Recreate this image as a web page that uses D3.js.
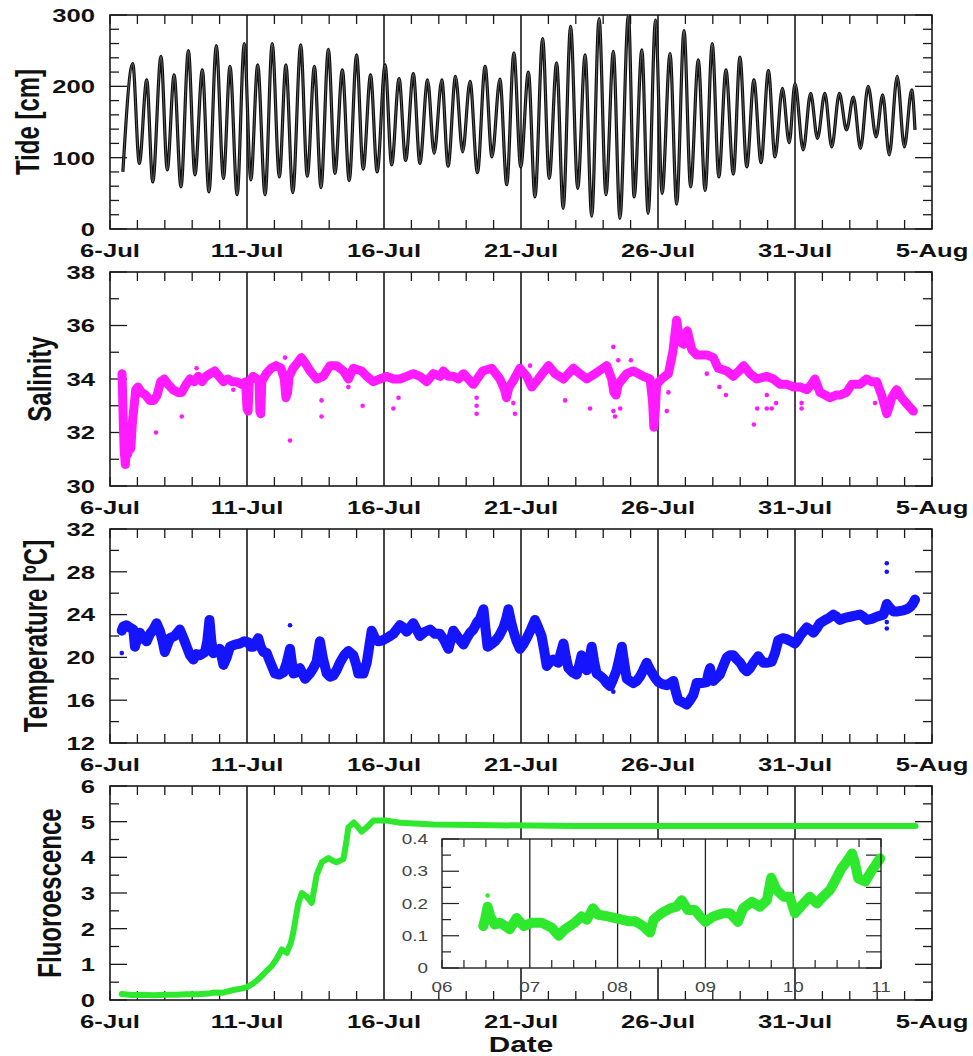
<!DOCTYPE html>
<html><head><meta charset="utf-8">
<script src="https://cdn.jsdelivr.net/npm/d3@7"></script>
<style>html,body{margin:0;padding:0;background:#fff}svg{display:block}</style>
</head><body>
<svg id="chart" width="973" height="1056"></svg>
<script>
// ---------- DATA (days since 6-Jul 00:00) ----------
const dateLabels = ["6-Jul","11-Jul","16-Jul","21-Jul","26-Jul","31-Jul","5-Aug"];
const insetLabels = ["06","07","08","09","10","11"];

const tideDay = [0.47,0.83,1.07,1.34,1.56,1.86,2.09,2.34,2.59,2.86,3.10,3.37,3.61,3.88,4.14,4.38,4.64,4.90,5.14,5.39,5.66,5.92,6.18,6.42,6.67,6.96,7.20,7.46,7.70,7.97,8.21,8.48,8.73,9.00,9.24,9.51,9.75,10.04,10.28,10.55,10.79,11.07,11.31,11.59,11.83,12.11,12.34,12.61,12.87,13.14,13.41,13.69,13.94,14.23,14.48,14.74,14.99,15.27,15.51,15.79,16.03,16.30,16.54,16.81,17.07,17.34,17.58,17.85,18.10,18.37,18.61,18.92,19.13,19.41,19.64,19.91,20.15,20.44,20.68,20.95,21.19,21.47,21.72,21.98,22.22,22.48,22.75,22.99,23.24,23.50,23.76,24.03,24.27,24.54,24.79,25.00,25.30,25.57,25.82,26.09,26.34,26.62,26.88,27.13,27.39,27.67,27.96,28.20,28.44,28.73,28.99,29.26,29.38];
const tideCm = [80,232,92,209,66,242,83,216,59,250,76,223,52,257,71,228,48,260,69,230,48,260,73,230,51,258,74,228,58,252,78,223,68,244,84,216,80,230,90,211,96,218,92,209,106,209,88,214,108,207,79,228,101,210,62,247,87,220,45,267,71,233,29,284,57,244,18,295,48,249,15,300,45,251,22,293,50,246,35,278,59,237,54,260,73,223,77,241,87,209,93,222,101,197,121,204,111,190,127,190,115,190,139,185,113,200,129,188,104,214,115,195,139];

const salDay = [0.44,0.46,0.49,0.52,0.56,0.60,0.65,0.70,0.76,0.82,0.88,0.94,1.02,1.15,1.30,1.45,1.60,1.72,1.85,1.98,2.12,2.30,2.48,2.62,2.78,2.92,3.08,3.22,3.36,3.50,3.66,3.82,3.98,4.14,4.30,4.46,4.62,4.80,4.95,5.00,5.04,5.08,5.22,5.36,5.44,5.47,5.50,5.54,5.70,5.88,6.06,6.24,6.36,6.42,6.48,6.54,6.68,6.84,6.98,7.12,7.30,7.54,7.78,8.03,8.27,8.52,8.70,8.88,9.18,9.37,9.61,9.85,10.10,10.34,10.58,10.83,11.07,11.31,11.56,11.80,12.05,12.17,12.35,12.53,12.72,12.90,13.08,13.26,13.40,13.60,13.93,14.23,14.40,14.47,14.56,14.70,14.96,15.21,15.39,15.63,16.00,16.24,16.55,16.91,17.15,17.40,17.70,18.13,18.31,18.39,18.47,18.55,18.86,19.10,19.46,19.71,19.80,19.85,19.90,19.95,20.13,20.38,20.54,20.68,20.74,20.80,20.93,21.07,21.23,21.41,21.78,22.02,22.20,22.51,22.75,22.95,23.12,23.36,23.60,23.97,24.21,24.45,24.70,24.95,25.20,25.43,25.60,25.73,25.91,26.10,26.28,26.50,26.64,26.88,27.07,27.37,27.61,27.80,27.98,28.16,28.35,28.45,28.53,28.71,28.89,29.14,29.32];
const salVal = [34.2,33.4,32.2,31.3,30.8,31.6,31.2,31.5,31.4,32.4,33.0,33.6,33.7,33.5,33.4,33.2,33.2,33.4,33.9,34.0,33.8,33.6,33.5,33.5,33.8,34.0,33.9,34.1,33.9,34.1,34.2,34.3,34.1,33.9,34.0,33.9,33.9,33.8,33.9,32.9,32.8,33.9,34.1,34.0,33.9,32.8,32.7,33.9,34.2,34.4,34.5,34.4,34.0,33.3,33.5,34.1,34.4,34.6,34.8,34.6,34.3,34.0,34.1,34.5,34.5,34.3,34.0,34.4,34.3,34.1,33.9,34.0,34.1,34.0,34.0,34.1,34.2,34.1,33.9,34.2,34.1,34.3,34.1,34.1,34.0,34.2,34.0,33.8,34.0,34.3,34.4,34.0,33.6,33.3,33.7,33.9,34.4,34.1,33.7,34.0,34.5,34.2,34.0,34.4,34.2,34.0,34.2,34.5,34.0,33.5,33.4,33.8,34.2,34.3,34.1,34.0,33.2,32.2,32.8,33.8,34.0,34.2,35.0,36.2,35.8,35.4,35.3,35.8,35.1,34.9,34.9,34.8,34.4,34.3,34.1,34.3,34.5,34.2,34.0,34.1,34.0,33.8,33.8,33.7,33.7,33.6,33.8,34.0,33.5,33.4,33.3,33.4,33.4,33.5,33.8,33.8,34.0,33.9,33.9,33.4,32.7,33.0,33.3,33.6,33.3,33.0,32.8];
const salOutDay = [1.68,2.62,6.57,7.72,7.72,9.22,8.70,10.34,10.53,13.38,13.38,13.38,6.39,3.16,4.50,14.72,14.78,15.33,16.61,17.52,18.37,18.37,18.43,18.55,18.62,19.01,20.38,20.32,21.78,22.24,22.48,23.50,23.62,23.97,23.97,24.15,24.31,25.24,25.24,27.92];
const salOutVal = [32.0,32.6,31.7,33.2,32.6,33.0,33.7,32.9,33.3,33.3,33.0,32.7,34.8,34.4,33.6,33.1,32.7,34.5,33.2,32.9,35.2,32.8,32.6,34.7,32.9,34.7,33.5,32.8,34.2,33.7,33.4,32.3,32.9,33.4,32.9,32.9,33.1,33.1,32.9,33.1];

const tempDay = [0.43,0.49,0.60,0.72,0.85,0.91,1.00,1.09,1.20,1.34,1.46,1.58,1.70,1.82,1.92,2.00,2.10,2.19,2.36,2.55,2.68,2.80,2.92,3.04,3.16,3.28,3.47,3.55,3.63,3.70,3.77,3.90,4.01,4.14,4.26,4.38,4.56,4.74,4.90,5.05,5.14,5.23,5.41,5.50,5.60,5.72,5.84,6.02,6.18,6.33,6.45,6.57,6.69,6.81,6.93,7.12,7.30,7.42,7.54,7.66,7.78,7.91,8.03,8.15,8.27,8.39,8.55,8.70,8.88,9.00,9.06,9.25,9.37,9.46,9.55,9.67,9.79,9.95,10.10,10.22,10.34,10.46,10.58,10.70,10.83,10.95,11.07,11.19,11.31,11.50,11.68,11.86,12.04,12.20,12.35,12.53,12.72,12.90,13.02,13.14,13.26,13.38,13.50,13.63,13.70,13.78,13.90,14.05,14.20,14.36,14.46,14.54,14.63,14.72,14.84,14.96,15.08,15.21,15.36,15.51,15.63,15.75,15.85,15.94,16.06,16.18,16.36,16.46,16.55,16.64,16.73,16.88,17.03,17.12,17.21,17.30,17.40,17.50,17.58,17.67,17.76,17.88,18.01,18.13,18.25,18.37,18.49,18.58,18.68,18.77,18.86,18.98,19.10,19.22,19.34,19.46,19.59,19.68,19.77,19.89,20.01,20.16,20.32,20.44,20.56,20.65,20.74,20.90,21.05,21.17,21.29,21.41,21.60,21.78,21.84,21.90,21.96,22.02,22.14,22.26,22.38,22.51,22.63,22.75,22.88,23.00,23.12,23.24,23.36,23.48,23.57,23.66,23.75,23.84,24.00,24.15,24.27,24.39,24.55,24.70,24.85,25.00,25.09,25.18,25.30,25.43,25.55,25.67,25.79,25.91,26.10,26.25,26.40,26.52,26.64,26.82,27.01,27.19,27.37,27.50,27.62,27.80,27.98,28.10,28.23,28.35,28.47,28.59,28.75,28.96,29.08,29.20,29.30,29.38];
const tempVal = [22.5,22.9,23.0,22.8,22.6,21.0,21.8,22.3,21.8,21.5,22.2,22.6,23.2,22.5,21.5,20.5,21.2,21.8,22.0,22.6,21.8,21.0,20.2,19.8,20.3,20.2,20.5,21.5,23.5,21.5,20.4,20.6,20.8,19.3,20.0,21.0,21.2,21.3,21.5,21.4,21.0,21.0,21.8,21.0,20.5,20.4,19.6,18.5,18.4,18.6,19.5,20.8,18.5,18.6,19.0,18.0,18.5,19.0,19.6,21.5,19.8,18.5,18.2,18.3,18.8,19.5,20.2,20.6,20.2,19.2,18.5,18.5,19.5,21.0,22.5,21.8,21.5,21.6,21.8,22.0,22.2,22.6,23.0,22.8,22.4,22.8,23.2,22.6,22.0,22.4,22.6,22.2,22.2,21.6,20.8,22.5,21.8,21.2,21.8,22.3,22.6,23.2,23.6,24.5,22.8,21.0,21.2,21.5,22.0,22.8,23.6,24.5,23.4,22.5,21.5,20.8,21.2,21.8,22.6,23.5,22.8,22.0,20.6,19.2,19.6,19.8,19.5,20.5,21.3,20.0,19.0,18.6,18.4,19.2,20.2,19.4,18.8,19.8,21.0,19.6,18.5,18.3,18.0,17.6,17.3,18.0,18.8,19.8,21.0,19.4,18.0,17.8,17.6,17.8,18.2,18.8,19.5,19.0,18.6,18.1,17.7,17.5,17.4,17.6,17.8,16.8,16.0,15.8,15.6,16.0,16.5,17.6,17.6,17.7,18.5,19.0,18.2,17.8,18.1,18.4,19.2,20.0,20.2,20.2,19.8,19.5,19.0,18.7,19.0,19.5,19.8,20.1,19.8,19.5,19.5,19.6,20.4,21.6,21.8,21.7,21.5,21.3,21.6,22.0,22.4,22.8,22.6,22.3,22.7,23.2,23.5,23.7,24.0,23.8,23.5,23.7,23.8,23.9,24.0,23.8,23.5,23.6,23.8,23.9,24.0,25.0,24.6,24.3,24.3,24.4,24.5,24.7,25.0,25.4];
const tempOutDay = [0.43,6.57,18.37,28.35,28.35,28.35,28.35];
const tempOutVal = [20.4,23.0,16.8,28.8,28.0,23.3,22.7];

const fluoDay = [0.43,0.8,1.2,1.6,2.0,2.4,2.8,3.2,3.6,3.8,4.1,4.5,4.8,5.0,5.2,5.47,5.72,5.9,6.08,6.27,6.45,6.6,6.69,6.8,6.87,7.0,7.18,7.36,7.45,7.54,7.73,7.97,8.15,8.27,8.52,8.62,8.70,8.90,9.05,9.18,9.37,9.61,10.10,10.58,11.8,14,17,20,25,29.4];
const fluoVal = [0.17,0.14,0.15,0.13,0.15,0.15,0.16,0.16,0.18,0.21,0.20,0.28,0.32,0.36,0.45,0.62,0.82,0.95,1.15,1.42,1.32,1.6,1.9,2.4,2.7,3.0,2.9,2.72,3.1,3.5,3.86,3.98,3.9,3.86,3.95,4.4,4.84,4.98,4.85,4.72,4.84,5.03,5.03,4.97,4.92,4.9,4.88,4.88,4.88,4.88];

const insetDay = [0.47,0.49,0.52,0.55,0.60,0.66,0.72,0.77,0.85,0.93,1.02,1.14,1.25,1.33,1.40,1.51,1.59,1.65,1.72,1.78,1.89,1.97,2.05,2.12,2.20,2.29,2.37,2.41,2.50,2.60,2.67,2.73,2.80,2.88,2.94,3.00,3.09,3.20,3.28,3.37,3.43,3.53,3.62,3.70,3.75,3.81,3.89,3.96,4.02,4.10,4.19,4.27,4.34,4.42,4.48,4.55,4.61,4.67,4.70,4.74,4.82,4.89,4.99];
const insetVal = [0.13,0.15,0.19,0.16,0.135,0.14,0.13,0.12,0.155,0.13,0.14,0.14,0.125,0.10,0.12,0.14,0.16,0.15,0.185,0.165,0.16,0.155,0.15,0.145,0.145,0.13,0.11,0.15,0.17,0.185,0.19,0.21,0.18,0.18,0.16,0.143,0.16,0.17,0.17,0.143,0.185,0.205,0.19,0.21,0.28,0.242,0.221,0.221,0.17,0.195,0.221,0.20,0.221,0.242,0.272,0.309,0.33,0.355,0.33,0.278,0.268,0.30,0.34];
const insetOutDay = [0.52];
const insetOutVal = [0.225];

// ---------- LAYOUT ----------
const svg = d3.select("#chart");
const SX = 1.35;
const FONT = "'Liberation Sans', Arial, Helvetica, sans-serif";
const L = 110, R = 932, H = 214;
const x = d3.scaleLinear().domain([0, 30]).range([L, R]);

function label(g, px, py, s, o) {
  o = o || {};
  const t = g.append("text")
    .attr("transform", `translate(${px},${py}) scale(${o.sx || SX},1)` + (o.rot ? " rotate(-90)" : ""))
    .attr("text-anchor", o.anchor || "middle")
    .attr("font-family", FONT)
    .attr("font-weight", o.weight || "bold")
    .attr("font-size", o.size || 19)
    .attr("fill", o.fill || "#111")
    .text(s);
  if (o.dy) t.attr("dy", o.dy);
  return t;
}

const panels = [
  {top: 15,  dom: [0, 300], major: 100, minor: 20,  title: "Tide [cm]", tx: 28},
  {top: 272, dom: [30, 38], major: 2,   minor: 1,   title: "Salinity", tx: 40},
  {top: 529, dom: [12, 32], major: 4,   minor: 2,   title: "Temperature [ºC]", tx: 36},
  {top: 786, dom: [0, 6],   major: 1,   minor: 0.5, title: "Fluoroescence", tx: 50}
];

panels.forEach((p, i) => {
  const g = svg.append("g");
  const bottom = p.top + H;
  const y = d3.scaleLinear().domain(p.dom).range([bottom, p.top]);
  p.y = y; p.g = g; p.bottom = bottom;
  const clipId = "clip" + i;
  svg.append("clipPath").attr("id", clipId).append("rect")
    .attr("x", L).attr("y", p.top).attr("width", R - L).attr("height", H);
  p.clip = `url(#${clipId})`;
  const days = d3.range(0, 31);
  days.forEach(d => {
    if (d % 5 === 0 && d > 0 && d < 30) {
      g.append("line").attr("x1", x(d)).attr("x2", x(d)).attr("y1", p.top).attr("y2", bottom)
        .attr("stroke", "#1a1a1a").attr("stroke-width", 1.6);
    } else {
      g.append("line").attr("x1", x(d)).attr("x2", x(d)).attr("y1", p.top).attr("y2", p.top + 9)
        .attr("stroke", "#1a1a1a").attr("stroke-width", 1.3);
      g.append("line").attr("x1", x(d)).attr("x2", x(d)).attr("y1", bottom).attr("y2", bottom - 9)
        .attr("stroke", "#1a1a1a").attr("stroke-width", 1.3);
    }
  });
  const n = Math.round((p.dom[1] - p.dom[0]) / p.minor);
  for (let k = 0; k <= n; k++) {
    const v = p.dom[0] + k * p.minor;
    const isMajor = Math.abs((v - p.dom[0]) / p.major - Math.round((v - p.dom[0]) / p.major)) < 1e-6;
    const len = isMajor ? 17 : 9;
    g.append("line").attr("x1", L).attr("x2", L + len).attr("y1", y(v)).attr("y2", y(v))
      .attr("stroke", "#1a1a1a").attr("stroke-width", 1.3);
    g.append("line").attr("x1", R).attr("x2", R - len).attr("y1", y(v)).attr("y2", y(v))
      .attr("stroke", "#1a1a1a").attr("stroke-width", 1.3);
    if (isMajor) label(g, 95, y(v), d3.format("~g")(+v.toFixed(3)), {anchor: "end", dy: "0.36em"});
  }
  dateLabels.forEach((s, k) => label(g, x(k * 5), bottom + 28, s));
  label(g, p.tx, p.top + H / 2, p.title, {rot: true, size: 24, dy: "0.35em"});
  g.append("rect").attr("x", L).attr("y", p.top).attr("width", R - L).attr("height", H)
    .attr("fill", "none").attr("stroke", "#1a1a1a").attr("stroke-width", 1.6);
});

// ---------- SERIES ----------
{
  const p = panels[0];
  const pts = tideDay.map((d, i) => [d, tideCm[i]]);
  const line = d3.line().x(d => x(d[0])).y(d => p.y(d[1])).curve(d3.curveMonotoneX);
  const s = svg.append("g").attr("clip-path", p.clip);
  s.append("path").attr("d", line(pts)).attr("fill", "none").attr("stroke", "#0d0d0d").attr("stroke-width", 3.2);
  s.append("path").attr("d", line(pts)).attr("fill", "none").attr("stroke", "#6e6e6e").attr("stroke-width", 0.8);
}
{
  const p = panels[1];
  const pts = salDay.map((d, i) => [d, salVal[i]]);
  const line = d3.line().x(d => x(d[0])).y(d => p.y(d[1]));
  const s = svg.append("g").attr("clip-path", p.clip);
  s.append("path").attr("d", line(pts)).attr("fill", "none").attr("stroke", "#ff1aff")
    .attr("stroke-width", 9).attr("stroke-linejoin", "round").attr("stroke-linecap", "round");
  s.selectAll("circle").data(salOutDay.map((d, i) => [d, salOutVal[i]])).join("circle")
    .attr("cx", d => x(d[0])).attr("cy", d => p.y(d[1])).attr("r", 2.3).attr("fill", "#ff1aff");
}
{
  const p = panels[2];
  const pts = tempDay.map((d, i) => [d, tempVal[i]]);
  const line = d3.line().x(d => x(d[0])).y(d => p.y(d[1]));
  const s = svg.append("g").attr("clip-path", p.clip);
  s.append("path").attr("d", line(pts)).attr("fill", "none").attr("stroke", "#1414ff")
    .attr("stroke-width", 10).attr("stroke-linejoin", "round").attr("stroke-linecap", "round");
  s.selectAll("circle").data(tempOutDay.map((d, i) => [d, tempOutVal[i]])).join("circle")
    .attr("cx", d => x(d[0])).attr("cy", d => p.y(d[1])).attr("r", 2.3).attr("fill", "#1414ff");
}
{
  const p = panels[3];
  const pts = fluoDay.map((d, i) => [d, fluoVal[i]]);
  const line = d3.line().x(d => x(d[0])).y(d => p.y(d[1]));
  const s = svg.append("g").attr("clip-path", p.clip);
  s.append("path").attr("d", line(pts)).attr("fill", "none").attr("stroke", "#2ee82e")
    .attr("stroke-width", 6).attr("stroke-linejoin", "round").attr("stroke-linecap", "round");
}

// ---------- INSET ----------
{
  const IL = 442, IR = 881, IT = 839, IB = 968;
  const xi = d3.scaleLinear().domain([0, 5]).range([IL, IR]);
  const yi = d3.scaleLinear().domain([0, 0.4]).range([IB, IT]);
  const g = svg.append("g");
  g.append("rect").attr("x", IL).attr("y", IT).attr("width", IR - IL).attr("height", IB - IT).attr("fill", "#fff");
  for (let k = 0; k <= 20; k++) {
    const d = k / 4;
    if (k % 4 === 0 && k > 0 && k < 20) {
      g.append("line").attr("x1", xi(d)).attr("x2", xi(d)).attr("y1", IT).attr("y2", IB)
        .attr("stroke", "#222").attr("stroke-width", 1.3);
    } else {
      g.append("line").attr("x1", xi(d)).attr("x2", xi(d)).attr("y1", IT).attr("y2", IT + 8).attr("stroke", "#222").attr("stroke-width", 1.2);
      g.append("line").attr("x1", xi(d)).attr("x2", xi(d)).attr("y1", IB).attr("y2", IB - 8).attr("stroke", "#222").attr("stroke-width", 1.2);
    }
  }
  for (let k = 0; k <= 8; k++) {
    const v = k * 0.05;
    const major = k % 2 === 0;
    g.append("line").attr("x1", IL).attr("x2", IL + (major ? 17 : 9)).attr("y1", yi(v)).attr("y2", yi(v)).attr("stroke", "#222").attr("stroke-width", 1.2);
    g.append("line").attr("x1", IR).attr("x2", IR - 15).attr("y1", yi(v)).attr("y2", yi(v)).attr("stroke", "#222").attr("stroke-width", 1.2);
    if (major) label(g, IL - 14, yi(v), d3.format("~g")(+v.toFixed(2)), {anchor: "end", dy: "0.36em", weight: "normal", size: 14, fill: "#444"});
  }
  insetLabels.forEach((s, k) => label(g, xi(k), 992, s, {weight: "normal", size: 14, fill: "#444"}));
  const pts = insetDay.map((d, i) => [d, insetVal[i]]);
  const line = d3.line().x(d => xi(d[0])).y(d => yi(d[1]));
  g.append("path").attr("d", line(pts)).attr("fill", "none").attr("stroke", "#2ee82e")
    .attr("stroke-width", 10).attr("stroke-linejoin", "round").attr("stroke-linecap", "round");
  g.selectAll("circle.o").data(insetOutDay.map((d, i) => [d, insetOutVal[i]])).join("circle")
    .attr("cx", d => xi(d[0])).attr("cy", d => yi(d[1])).attr("r", 2.2).attr("fill", "#2ee82e");
  g.append("rect").attr("x", IL).attr("y", IT).attr("width", IR - IL).attr("height", IB - IT)
    .attr("fill", "none").attr("stroke", "#222").attr("stroke-width", 1.4);
}

label(svg, (L + R) / 2, 1052, "Date", {size: 22});
</script>
</body></html>
